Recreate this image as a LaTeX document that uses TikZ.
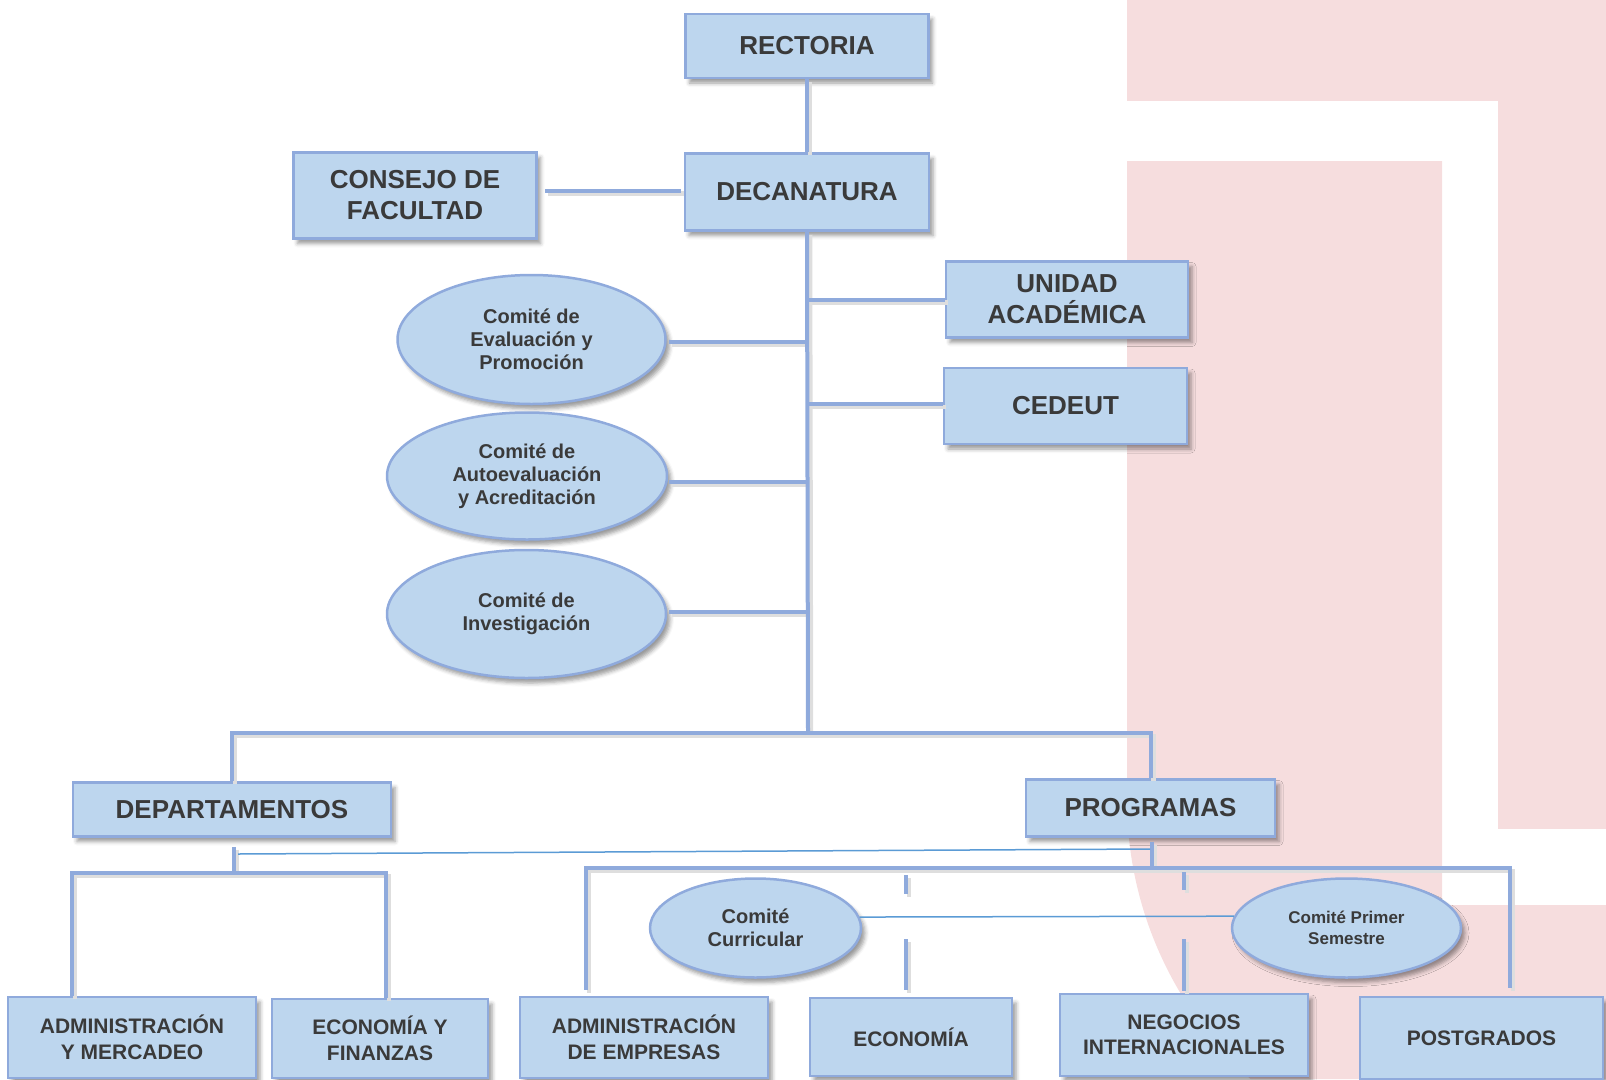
\documentclass[tikz,border=0pt]{standalone}
\usepackage{fontspec}
\setmainfont{Liberation Sans}
\usetikzlibrary{shapes.geometric,shadows.blur,calc}

\definecolor{boxfill}{RGB}{189,214,238}
\definecolor{bordblue}{RGB}{143,170,220}
\definecolor{thinblue}{RGB}{91,155,213}
\definecolor{txtgray}{RGB}{58,58,58}
\definecolor{logopink}{RGB}{246,221,222}

% every connector of the chart, drawn in the style given as argument
\newcommand{\orgconnectors}[1]{%
  % main trunk
  \draw[#1] (rect.south) -- (dec.north);
  \draw[#1] ([xshift=7pt,yshift=5pt]consejo.east) -- ([xshift=-3pt,yshift=5pt]dec.west |- consejo.east);
  \draw[#1] (dec.south) -- (bus);
  \draw[#1] (unidad.west) -- (unidad.west -| bus);
  \draw[#1] ([yshift=2pt]cedeut.west) -- ([yshift=2pt]cedeut.west -| bus);
  \draw[#1] ([xshift=2pt,yshift=-2pt]e1.east) -- ([yshift=-2pt]e1.east -| bus);
  \draw[#1] ([xshift=1pt,yshift=-6pt]e2.east) -- ([yshift=-6pt]e2.east -| bus);
  \draw[#1] ([xshift=2pt,yshift=2.5pt]e3.east) -- ([yshift=2.5pt]e3.east -| bus);
  \draw[#1] (dept.north) -- (dept.north |- bus) -- (prog.north |- bus) -- (prog.north);
  % departments
  \draw[#1] ([xshift=2pt,yshift=-9pt]dept.south) -- ([xshift=2pt]dept.south |- dbrk);
  \draw[#1] (dbrk |- admmer.north) -- (dbrk) -- (dbrk2) -- (dbrk2 |- ecofin.north);
  % programs
  \draw[#1] ([xshift=1.5pt,yshift=-4pt]prog.south) -- ([xshift=1.5pt]prog.south |- pbrk);
  \draw[#1] ([yshift=6pt]pbrk |- admemp.north) -- (pbrk) -- (pbrk2) -- ([yshift=8pt]pbrk2 |- post.north);
  \draw[#1] ([xshift=-5pt,yshift=-7pt]eco.north |- pbrk) -- ++(0,19);
  \draw[#1] ([xshift=-5pt,yshift=7pt]eco.north) -- ++(0,-51);
  \draw[#1] ([yshift=-4pt]neg.north |- pbrk) -- ++(0,18);
  \draw[#1] ([yshift=2pt]neg.north) -- ++(0,-52);
}

\begin{document}
\begin{tikzpicture}[x=1pt,y=-1pt,
  softshadow/.style={blur shadow={shadow xshift=4pt,shadow yshift=-5pt,shadow blur radius=4pt,shadow opacity=40}},
  orgbox/.style={rectangle,draw=bordblue,line width=2.5pt,fill=boxfill,text=txtgray,
    align=center,inner sep=0pt,softshadow},
  orgoval/.style={ellipse,draw=bordblue,line width=2.5pt,fill=boxfill,text=txtgray,
    align=center,inner sep=0pt,softshadow},
  bigtxt/.style={font=\fontsize{26pt}{31pt}\selectfont\bfseries},
  midtxt/.style={font=\fontsize{21pt}{25.5pt}\selectfont\bfseries},
  ovaltxt/.style={font=\fontsize{20pt}{23pt}\selectfont\bfseries},
  smalltxt/.style={font=\fontsize{17pt}{20.5pt}\selectfont\bfseries},
  conn/.style={draw=bordblue,line width=4pt},
  connshadow/.style={draw=black!13,line width=4.5pt,transform canvas={xshift=3pt,yshift=-3pt}},
  thinline/.style={draw=thinblue,line width=1.5pt}
]
\useasboundingbox (0,0) rectangle (1606,1079);

% faculty logo in the background
\fill[logopink] (1127,0) rectangle (1606,101);
\fill[logopink] (1498,101) rectangle (1606,829);
\fill[logopink] (1127,161) -- (1442,161) -- (1442,905) -- (1606,905) -- (1606,1079)
  -- (1250.5,1079) .. controls (1172,1007) and (1127,906.5) .. (1127,800) -- cycle;

% upper levels
\node[orgbox,bigtxt,minimum width=243pt,minimum height=64pt] (rect) at (807,46) {RECTORIA};
\node[orgbox,bigtxt,minimum width=244pt,minimum height=77pt] (dec) at (807,192) {DECANATURA};
\node[orgbox,bigtxt,minimum width=243pt,minimum height=86pt] (consejo) at (415,195.5) {CONSEJO DE\\FACULTAD};
\node[orgbox,bigtxt,minimum width=242pt,minimum height=76pt] (unidad) at (1067,299.5) {UNIDAD\\ACADÉMICA};
\node[orgbox,bigtxt,minimum width=243pt,minimum height=76pt] (cedeut) at (1065.5,406) {CEDEUT};

% committees
\node[orgoval,ovaltxt,minimum width=268pt,minimum height=129pt] (e1) at (531.5,339.5) {Comité de\\Evaluación y\\Promoción};
\node[orgoval,ovaltxt,minimum width=280pt,minimum height=127pt] (e2) at (527,476) {Comité de\\Autoevaluación\\y Acreditación};
\node[orgoval,ovaltxt,minimum width=279pt,minimum height=128pt] (e3) at (526.5,614) {Comité de\\Investigación};

% departments and programs
\node[orgbox,bigtxt,minimum width=318pt,minimum height=54pt] (dept) at (232,809.5) {DEPARTAMENTOS};
\node[orgbox,bigtxt,minimum width=249pt,minimum height=57pt] (prog) at (1150.5,808) {PROGRAMAS};

\node[orgbox,midtxt,minimum width=248pt,minimum height=81pt] (admmer) at (132,1037.5) {ADMINISTRACIÓN\\Y MERCADEO};
\node[orgbox,midtxt,minimum width=216pt,minimum height=79pt] (ecofin) at (380,1038.5) {ECONOMÍA Y\\FINANZAS};
\node[orgbox,midtxt,minimum width=248pt,minimum height=81pt] (admemp) at (644,1037.5) {ADMINISTRACIÓN\\DE EMPRESAS};
\node[orgbox,midtxt,minimum width=202pt,minimum height=78pt] (eco) at (911,1037) {ECONOMÍA};
\node[orgbox,midtxt,minimum width=248pt,minimum height=82pt] (neg) at (1184,1035) {NEGOCIOS\\INTERNACIONALES};
\node[orgbox,midtxt,minimum width=243pt,minimum height=82pt] (post) at (1481.5,1038) {POSTGRADOS};

\node[orgoval,ovaltxt,minimum width=211pt,minimum height=99pt] (curr) at (755.5,928) {Comité\\Curricular};
\node[orgoval,smalltxt,minimum width=229pt,minimum height=99pt] (prim) at (1346.5,928) {Comité Primer\\Semestre};

% junction points
\coordinate (bus) at (808,733);
\coordinate (dbrk) at (72,873);
\coordinate (dbrk2) at (386,873);
\coordinate (pbrk) at (586,868);
\coordinate (pbrk2) at (1510,868);
\coordinate (dthin) at (238,854);
\coordinate (pthin) at (1150,849);

% connectors: all shadows first, then the lines themselves
\orgconnectors{connshadow}
\orgconnectors{conn}

% thin links between departments/programs and between the two committees
\draw[thinline] (dthin) -- (pthin);
\draw[thinline] (curr.6) -- (prim.174);
\end{tikzpicture}
\end{document}
